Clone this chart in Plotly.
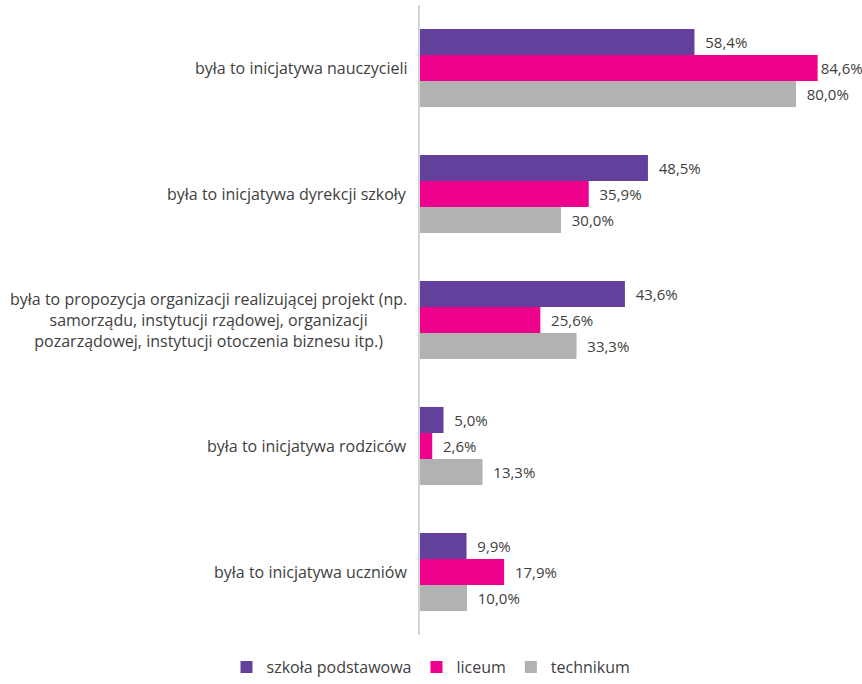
import plotly.graph_objects as go

# Kategorie (od góry)
kategorie = [
    "była to inicjatywa nauczycieli",
    "była to inicjatywa dyrekcji szkoły",
    "była to propozycja organizacji realizującej projekt (np.<br>samorządu, instytucji rządowej, organizacji<br>pozarządowej, instytucji otoczenia biznesu itp.)",
    "była to inicjatywa rodziców",
    "była to inicjatywa uczniów",
]

szkola_podstawowa = [58.4, 48.5, 43.6, 5.0, 9.9]
liceum = [84.6, 35.9, 25.6, 2.6, 17.9]
technikum = [80.0, 30.0, 33.3, 13.3, 10.0]

serie = [
    ("szkoła podstawowa", szkola_podstawowa, "#62409b"),
    ("liceum", liceum, "#ec008c"),
    ("technikum", technikum, "#b2b2b2"),
]

fig = go.Figure()
for nazwa, wartosci, kolor in serie:
    # przy najdłuższym słupku etykieta przylega do końca słupka
    szablony = ["%{x:.1f}%" if v > 84 else "  %{x:.1f}%" for v in wartosci]
    fig.add_trace(go.Bar(
        y=kategorie, x=wartosci, name=nazwa, orientation="h",
        marker=dict(color=kolor, line=dict(width=0)),
        texttemplate=szablony, textposition="outside",
        textfont=dict(color="#404040", size=15),
        constraintext="none", cliponaxis=False,
    ))

# Etykiety kategorii wyśrodkowane (jak w oryginale)
for k in kategorie:
    fig.add_annotation(
        x=-0.027, xref="paper", y=k, yref="y", text=k, showarrow=False,
        xanchor="right", align="center",
        font=dict(color="#404040", size=16),
    )

fig.update_layout(
    width=862, height=684,
    margin=dict(l=420, r=19, t=5, b=49),
    barmode="group", bargap=0.38, bargroupgap=0,
    separators=",.",
    plot_bgcolor="white", paper_bgcolor="white",
    font=dict(family="Open Sans", color="#404040", size=16),
    xaxis=dict(range=[0, 90], showgrid=False, zeroline=False,
               showticklabels=False, showline=False),
    yaxis=dict(autorange="reversed", showticklabels=False, showgrid=False,
               showline=True, linecolor="#d4d4d4", linewidth=2, ticks=""),
    legend=dict(orientation="h", xref="container", x=0.5, xanchor="center",
                yref="container", y=0.0, yanchor="bottom",
                font=dict(size=16, color="#404040"), itemwidth=30),
    showlegend=True,
)

fig.write_html("out.html", config={"displayModeBar": False},
               post_script="document.body.style.margin='0';")
